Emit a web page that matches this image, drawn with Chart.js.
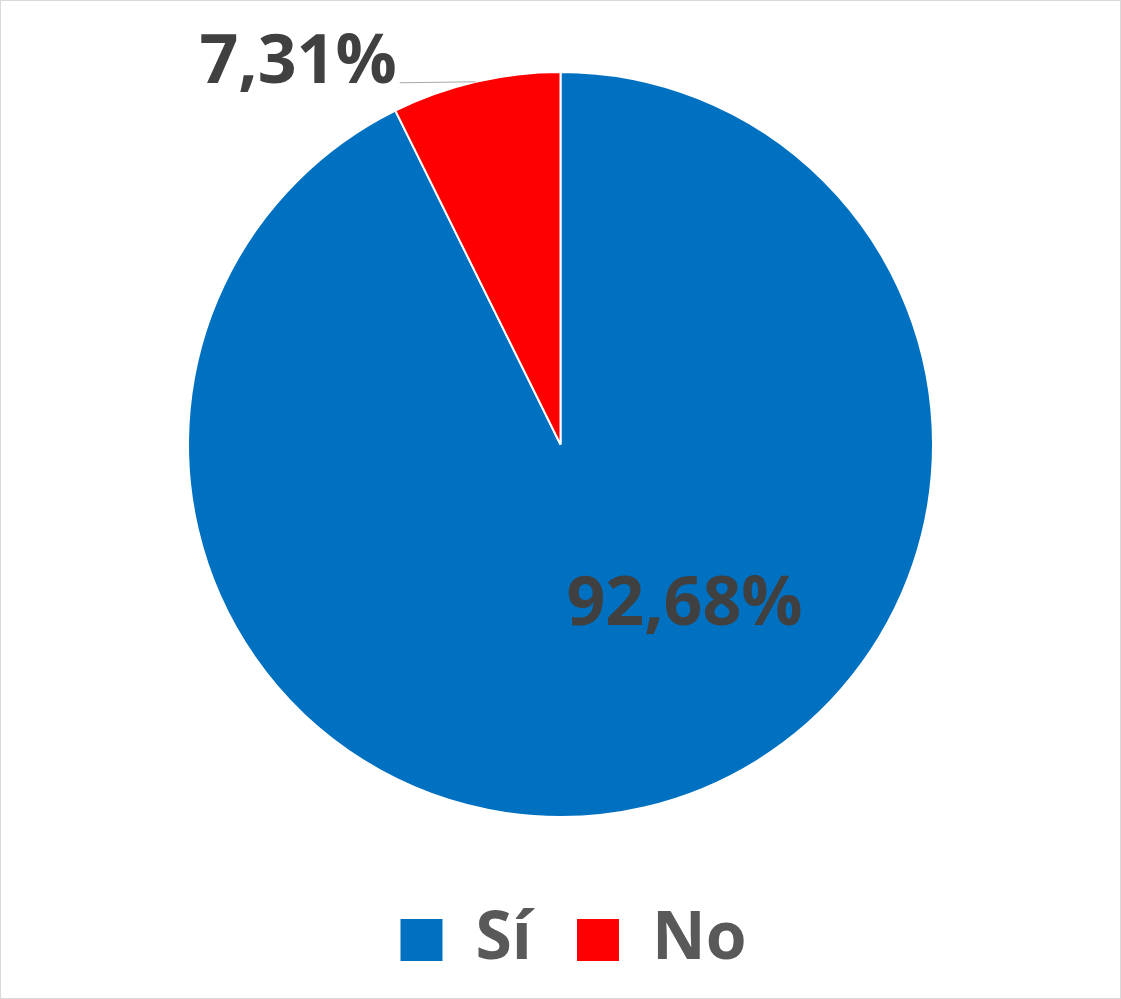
<!DOCTYPE html>
<html>
<head>
<meta charset="utf-8">
<script src="https://cdn.jsdelivr.net/npm/chart.js@4.4.1/dist/chart.umd.min.js"></script>
<style>
  body { margin: 0; background: #fff; }
  #wrap { width: 1121px; height: 999px; box-sizing: border-box; border: 1px solid #d9d9d9; }
</style>
</head>
<body>
<div id="wrap"><canvas id="myChart" width="1119" height="997"></canvas></div>
<script>
const categories = ["Sí", "No"];
const values = [92.68, 7.31];
const valueLabels = ["92,68%", "7,31%"];
const colors = ["#0070C0", "#FF0000"];

// Draw the percentage labels like Excel does (one inside, one outside with a leader line)
const pieLabels = {
    id: 'pieLabels',
    afterDatasetsDraw(chart) {
        const ctx = chart.ctx;
        const arcs = chart.getDatasetMeta(0).data;
        ctx.save();
        ctx.font = 'bold 68px "Open Sans"';
        ctx.fillStyle = '#404040';
        ctx.textBaseline = 'alphabetic';

        // Sí: inside the slice
        let a = arcs[0];
        let r = a.outerRadius;
        ctx.textAlign = 'center';
        ctx.fillText(valueLabels[0], a.x + 0.333 * r, a.y + 0.484 * r);

        // No: outside, leader line from the middle of the arc
        a = arcs[1];
        r = a.outerRadius;
        const mid = (a.startAngle + a.endAngle) / 2;
        const px = a.x + Math.cos(mid) * r;
        const py = a.y + Math.sin(mid) * r;
        ctx.strokeStyle = '#a6a6a6';
        ctx.lineWidth = 1;
        ctx.beginPath();
        ctx.moveTo(px, py);
        ctx.lineTo(px - 76, py + 1);
        ctx.stroke();
        ctx.textAlign = 'right';
        ctx.fillText(valueLabels[1], px - 79, py + 1);
        ctx.restore();
    }
};

// nudge the legend a bit to the right, Excel centres it a little differently
const legendShift = {
    id: 'legendShift',
    afterLayout(chart) {
        chart.legend.left += 26;
    }
};

new Chart(document.getElementById('myChart'), {
    type: 'pie',
    data: {
        labels: categories,
        datasets: [{
            data: values,
            backgroundColor: colors,
            borderColor: '#ffffff',
            borderWidth: 2
        }]
    },
    options: {
        responsive: false,
        animation: false,
        layout: { padding: { top: 70, bottom: 15 } },
        plugins: {
            tooltip: { enabled: false },
            legend: {
                position: 'bottom',
                // empty title only used as spacing above the legend items
                title: { display: true, text: '', font: { size: 10, lineHeight: 1 }, padding: 17 },
                labels: {
                    boxWidth: 42,
                    boxHeight: 42,
                    padding: 45,
                    color: '#595959',
                    font: { family: 'Open Sans', size: 66, weight: 'bold' },
                    generateLabels(chart) {
                        const items = Chart.overrides.pie.plugins.legend.labels.generateLabels(chart);
                        items.forEach(it => { it.lineWidth = 0; });
                        return items;
                    }
                }
            }
        }
    },
    plugins: [pieLabels, legendShift]
});
</script>
</body>
</html>
